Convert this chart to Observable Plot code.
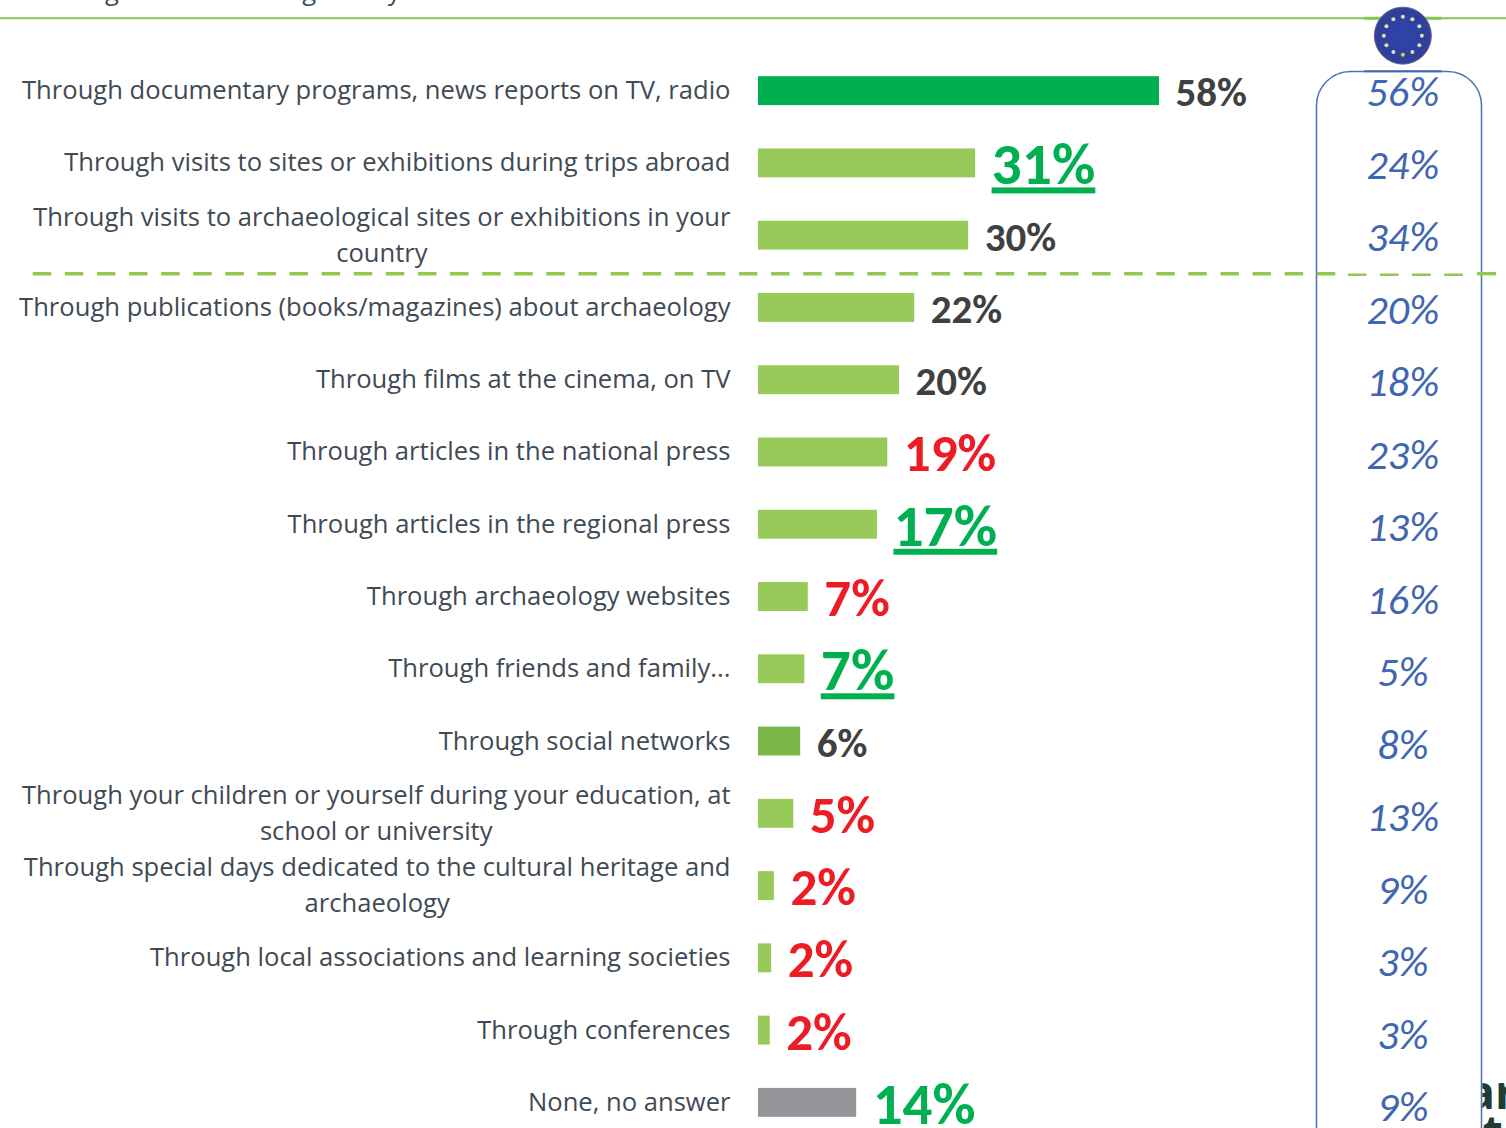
<!DOCTYPE html>
<html><head><meta charset="utf-8">
<script src="https://cdn.jsdelivr.net/npm/d3@7"></script>
<script src="https://cdn.jsdelivr.net/npm/@observablehq/plot@0.6"></script>
<style>
html,body{margin:0;padding:0;background:#fff;overflow:hidden}
.underlined text{text-decoration:underline;text-decoration-thickness:3.5px;text-underline-offset:4px}
</style></head><body><div id="c"></div>
<script>
const categories = [
 "Through documentary programs, news reports on TV, radio",
 "Through visits to sites or exhibitions during trips abroad",
 "Through visits to archaeological sites or exhibitions in your\ncountry",
 "Through publications (books/magazines) about archaeology",
 "Through films at the cinema, on TV",
 "Through articles in the national press",
 "Through articles in the regional press",
 "Through archaeology websites",
 "Through friends and family...",
 "Through social networks",
 "Through your children or yourself during your education, at\nschool or university",
 "Through special days dedicated to the cultural heritage and\narchaeology",
 "Through local associations and learning societies",
 "Through conferences",
 "None, no answer"
];
const barValues = [58,31.4,30.4,22.6,20.4,18.7,17.2,7.2,6.7,6.1,5.1,2.3,1.9,1.7,14.2];
const labels = ["58%","31%","30%","22%","20%","19%","17%","7%","7%","6%","5%","2%","2%","2%","14%"];
const euLabels = ["56%","24%","34%","20%","18%","23%","13%","16%","5%","8%","13%","9%","3%","3%","9%"];
const kinds = ["same","up","same","same","same","down","up","down","up","same","down","down","down","down","none"];
const barKinds = ["top","mid","mid","mid","mid","mid","mid","mid","mid","dark","mid","mid","mid","mid","none"];

const rows = categories.map((c,i)=>({c,i,v:barValues[i],label:labels[i],eu:euLabels[i],kind:kinds[i],bar:barKinds[i]}));
const barColor = {top:"#00b050",mid:"#97ca58",dark:"#7ab648",none:"#939598"};
const first = categories[0];
const last = categories[categories.length-1];
const euCol = 93.2;
const valueFont = "Carlito, Lato, sans-serif";
const labelFontSize = 25.6;
const txt = (kind,fill,size,extra={}) => Plot.text(rows.filter(d=>d.kind===kind),{
  x:"v",y:"c",text:"label",textAnchor:"start",dx:16,dy:2,fill,fontSize:size,fontWeight:700,fontFamily:valueFont,...extra});
const stars = d3.range(12).map(i=>i*Math.PI/6);

const ctx = document.createElement("canvas").getContext("2d");
ctx.font = `${labelFontSize}px "Open Sans"`;
const blockWidth = s => d3.max(s.split("\n"),l=>ctx.measureText(l).width);
const labelStyle = {x:0,y:"c",text:"c",dy:-3.5,fontFamily:"Open Sans",fontSize:labelFontSize,lineHeight:36/labelFontSize,fill:"#3f4a54"};
const dashGreen = "#92c850";
const gradient = () => {
  const defs = d3.create("svg:defs");
  const g = defs.append("radialGradient").attr("id","euGrad");
  g.append("stop").attr("offset","0%").attr("stop-color","#2f47ab");
  g.append("stop").attr("offset","80%").attr("stop-color","#2d3f9f");
  g.append("stop").attr("offset","100%").attr("stop-color","#3a3f8e");
  return defs.node();
};

const chart = Plot.plot({
  width:1506,height:1128,margin:0,
  x:{type:"linear",domain:[0,58],range:[758,1159],axis:null},
  y:{type:"band",domain:categories,range:[54.5,1138.5],paddingInner:0.6,paddingOuter:0.3,align:0.5,round:false,axis:null},
  marks:[
    gradient,
    Plot.text(["ar"],{x:[102.5],y:[last],text:d=>d,textAnchor:"start",dy:-9,fontFamily:"Open Sans",fontWeight:700,fontSize:46,fill:"#1f3d33"}),
    Plot.text(["t"],{x:[106.2],y:[last],text:d=>d,dy:31,fontFamily:"Open Sans",fontWeight:700,fontSize:46,fill:"#1f3d33"}),
    Plot.ruleX([103.1],{stroke:"#fff",strokeWidth:22}),
    Plot.frame({stroke:"#4a6fb8",strokeWidth:1.5,rx:34,insetLeft:1316,insetRight:25,insetTop:71,insetBottom:-60}),
    Plot.ruleY([first],{x1:83.4,x2:83.9,dy:-19.5,stroke:"#fff",strokeWidth:4}),
    Plot.ruleY([first],{x1:102.3,x2:102.8,dy:-19.5,stroke:"#fff",strokeWidth:4}),
    Plot.ruleY([first],{dy:-73,stroke:"#86c64e",strokeWidth:2}),
    Plot.ruleY([first],{x1:87.7,x2:98.9,dy:-73,stroke:"#86c64e",strokeWidth:3}),
    Plot.ruleY([first],{x1:87.7,x2:98.9,dy:-20,stroke:"#3f67b1",strokeWidth:2}),
    Plot.ruleY([categories[2]],{x1:-104.9,x2:83.6,dy:38,stroke:dashGreen,strokeWidth:3.5,strokeDasharray:"18.5 13.6"}),
    Plot.ruleY([categories[2]],{x1:85.33,x2:102.1,dy:39,stroke:dashGreen,strokeWidth:2.5,strokeDasharray:"18.5 13.6"}),
    Plot.ruleY([categories[2]],{x1:104,x2:106.74,dy:38,stroke:dashGreen,strokeWidth:3.5}),
    Plot.barX(rows,{x:"v",y:"c",fill:d=>barColor[d.bar]}),
    Plot.text(rows.filter(d=>!d.c.includes("\n")),{...labelStyle,dx:-28,textAnchor:"end"}),
    ...rows.filter(d=>d.c.includes("\n")).map(d=>Plot.text([d],{...labelStyle,dx:-28-blockWidth(d.c)/2,textAnchor:"middle"})),
    txt("same","#404040",41),
    txt("up","#00b050",59.5,{className:"underlined"}),
    txt("down","#ed1c24",53),
    txt("none","#00b050",59),
    ...rows.map(d=>Plot.text([d],{x:euCol,y:"c",text:"eu",fontFamily:valueFont,fontStyle:"italic",fontSize:42,fill:"#3f67b1",dy:1.5+d.i*0.23})),
    Plot.dot([first],{x:euCol,y:d=>d,dy:-55.5,r:28.5,fill:"url(#euGrad)",stroke:"#5a62a8",strokeWidth:1}),
    ...stars.map(a=>Plot.dot([first],{x:euCol,y:d=>d,dx:19*Math.sin(a),dy:-55.5-19*Math.cos(a),r:2,fill:Math.abs(a-Math.PI)<0.1?"#e8c83c":"#e8e0a8"})),
    Plot.text(["g","g","y"],{x:[-93.5,-65,-52.7],y:[first,first,first],text:d=>d,dy:-99,fontFamily:"Open Sans",fontSize:25.6,fill:"#3f4a54"})
  ]
});
document.getElementById("c").append(chart);
</script></body></html>
